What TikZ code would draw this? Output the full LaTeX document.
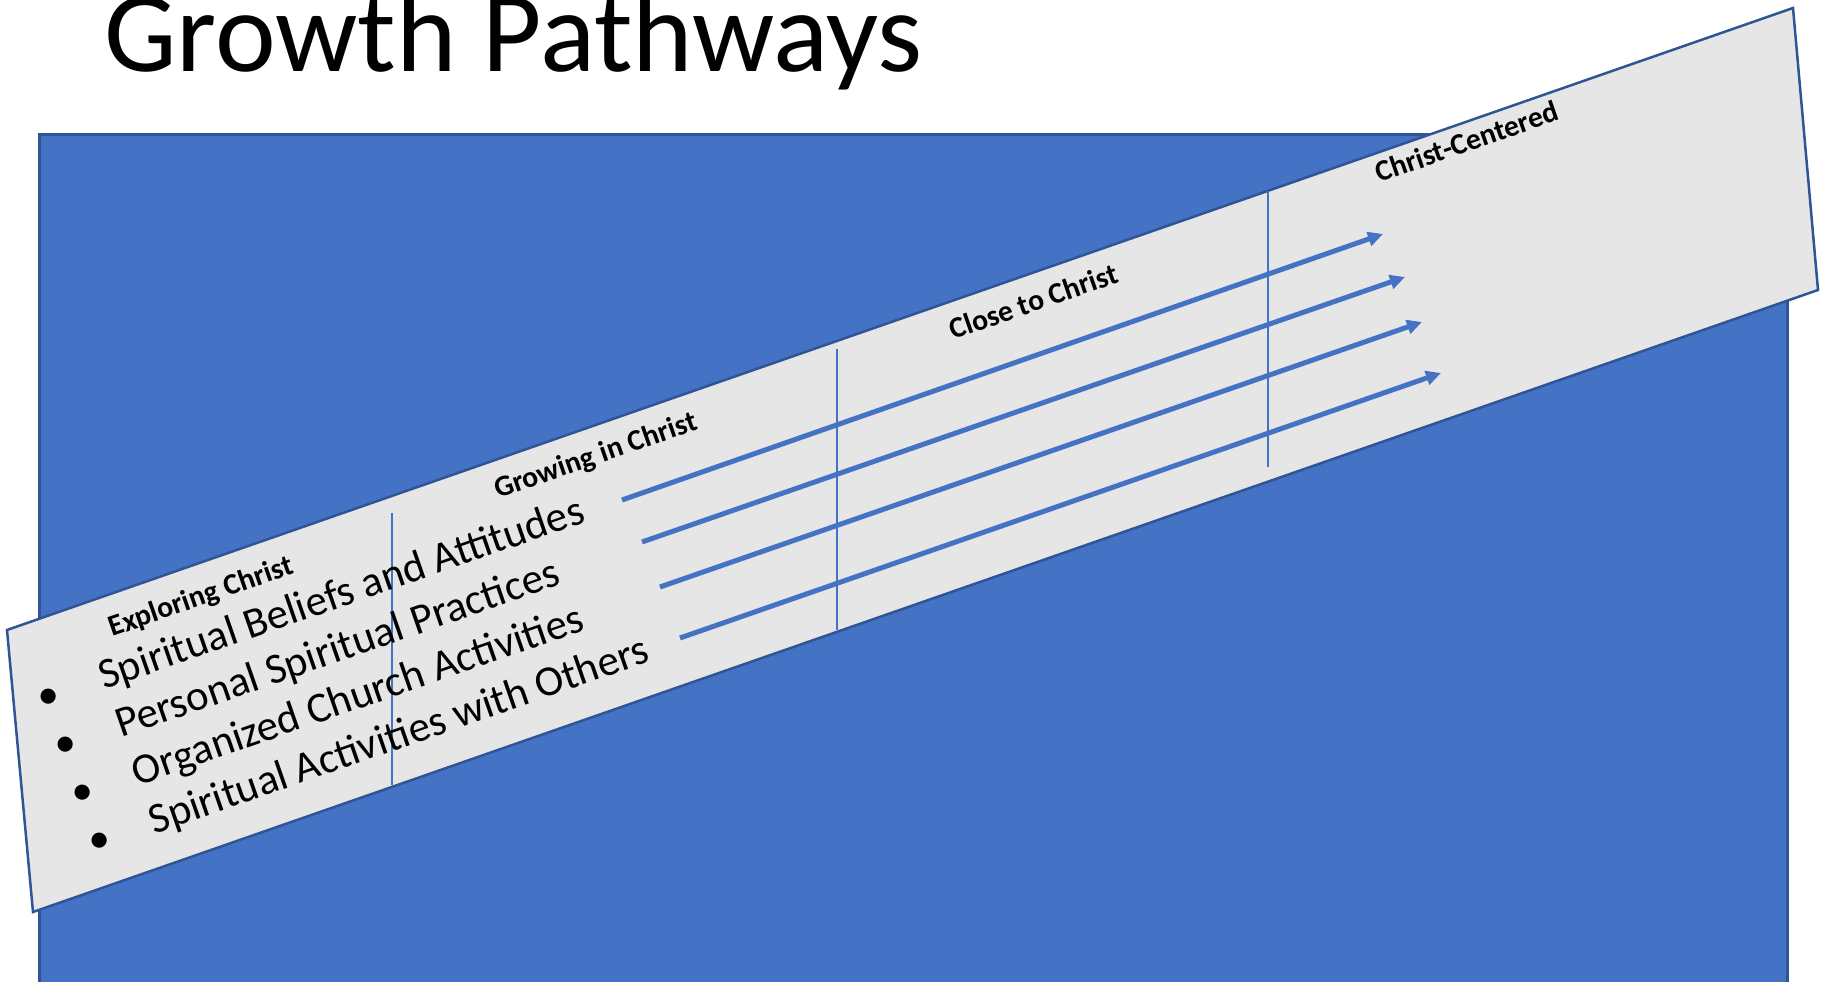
\documentclass[tikz,border=0pt]{standalone}
\usepackage{fontspec}
\setmainfont{Carlito}
\usepackage{xcolor}
\usepackage{tikz}
\usetikzlibrary{arrows.meta,positioning}

\definecolor{pathblue}{HTML}{4472C4}
\definecolor{edgeblue}{HTML}{2F5597}
\definecolor{bandgray}{HTML}{E7E6E6}

\begin{document}
\begin{tikzpicture}[
    x=0.02cm, y=-0.02cm,
    title/.style={font=\fontsize{65.5}{70}\selectfont, anchor=base west, inner sep=0pt},
    stage/.style={font=\bfseries\fontsize{16.9}{20}\selectfont, rotate=19.2, anchor=base west, inner sep=0pt},
    item/.style={font=\fontsize{24.4}{29}\selectfont, rotate=19.2, anchor=base west, inner sep=0pt},
    divider/.style={draw=pathblue, line width=0.05cm},
    pathway/.style={draw=pathblue, line width=0.1cm, -{Triangle[length=0.3cm, width=0.28cm]}}
]
\useasboundingbox (0,0) rectangle (1825,982);
\clip (0,0) rectangle (1825,982);

% background panel and slanted band
\filldraw[fill=pathblue, draw=edgeblue, line width=0.06cm] (39,135) rectangle (1787,1010);
\filldraw[fill=bandgray, draw=edgeblue, line width=0.05cm]
    (7,630) -- (1793,8) -- (1818,290) -- (33,912) -- cycle;

\node[title] (title) at (104,72) {Growth Pathways};

% stage separators
\draw[divider] (392,513) -- (392,785);
\draw[divider] (837,349) -- (837,630);
\draw[divider] (1268,191) -- (1268,467);

% stages
\node[stage] (exploring) at (112,637) {Exploring Christ};
\node[stage] (growing) at (498,499) {Growing in Christ};
\node[stage] (close) at (953,340) {Close to Christ};
\node[stage] (centered) at (1379,183) {Christ-Centered};

% pathways
\node[item] (beliefs) at (104,690) {\llap{\makebox[2.54em]{\textbullet}}Spiritual Beliefs and Attitudes};
\node[item] (practices) at (120.8,738.1) {\llap{\makebox[2.54em]{\textbullet}}Personal Spiritual Practices};
\node[item] (church) at (137.6,786.2) {\llap{\makebox[2.54em]{\textbullet}}Organized Church Activities};
\node[item] (others) at (154.4,834.3) {\llap{\makebox[2.54em]{\textbullet}}Spiritual Activities with Others};

\coordinate (beliefs from) at (622,500);
\coordinate (beliefs to) at (1383,234);
\coordinate (practices from) at (642,542);
\coordinate (practices to) at (1405,277);
\coordinate (church from) at (660,587);
\coordinate (church to) at (1422,322);
\coordinate (others from) at (680,638);
\coordinate (others to) at (1441,373);

\draw[pathway] (beliefs from) -- (beliefs to);
\draw[pathway] (practices from) -- (practices to);
\draw[pathway] (church from) -- (church to);
\draw[pathway] (others from) -- (others to);
\end{tikzpicture}
\end{document}
